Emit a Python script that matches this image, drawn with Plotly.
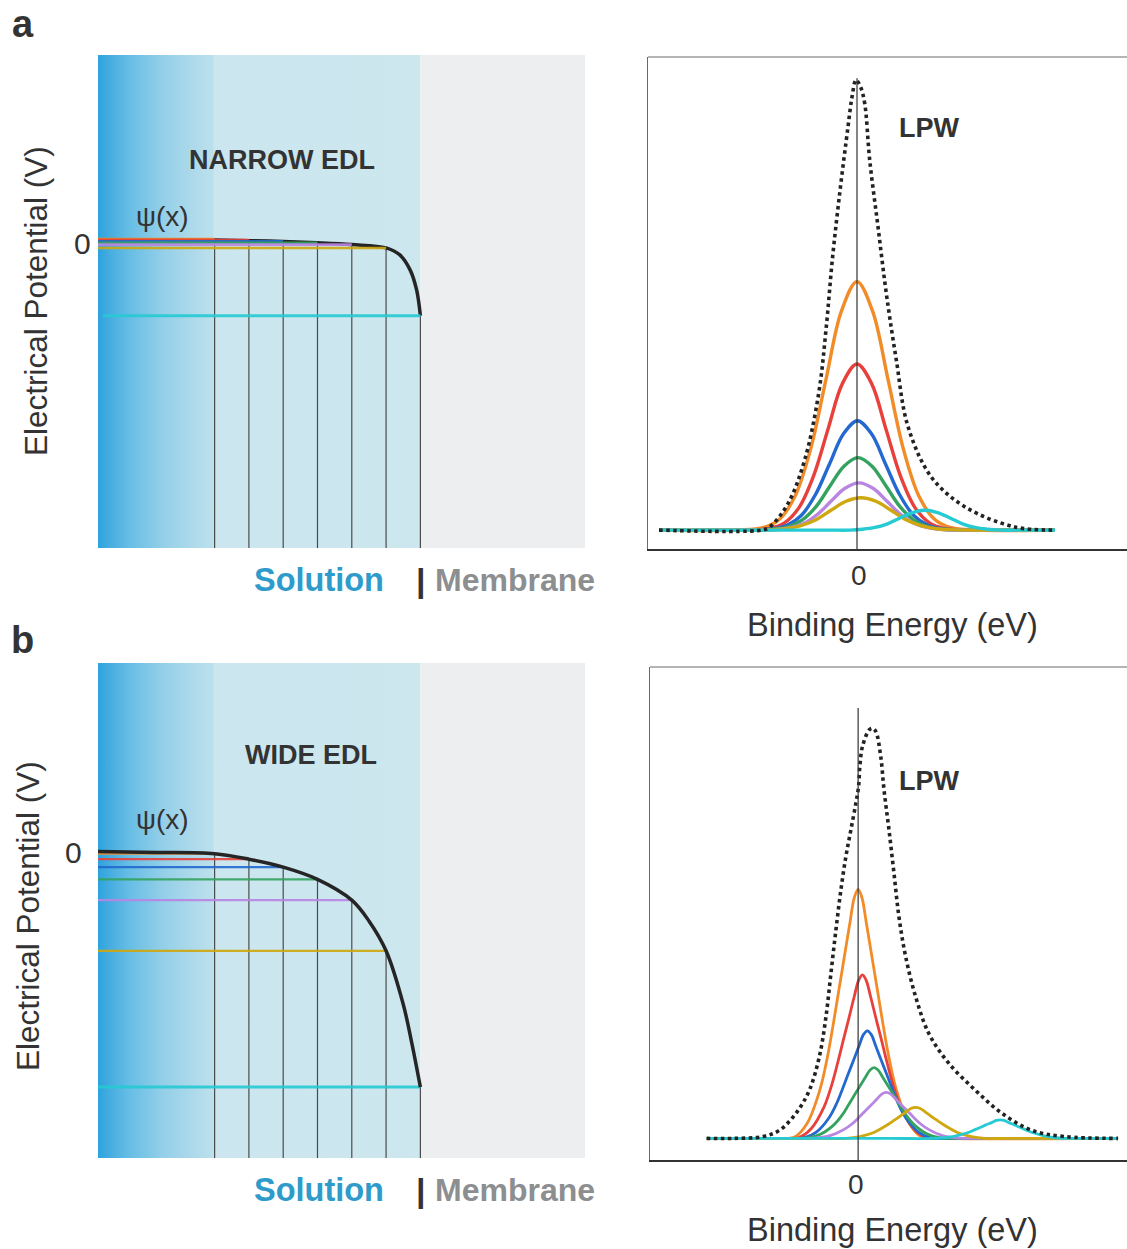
import plotly.graph_objects as go

W, H = 1127, 1249
FONT = "Liberation Sans, Arial, sans-serif"
TXT = "#333333"

# ---------------- left panels: potential vs distance ----------------
probe_x = [3.4, 4.4, 5.4, 6.4, 7.4, 8.4, 9.4]
membrane_x = 9.4
x_end = 14.2
probe_colors = ["#F28C28", "#E8413C", "#2369CF", "#34A35F", "#B985E3", "#CFA70E", "#26CAD3"]

narrow_levels = [0.015, 0.012, 0.0075, 0.003, -0.003, -0.014, -0.237]
narrow_psi_x = [0, 1.7, 3.4, 4.4, 5.4, 6.4, 7.4, 8.4, 8.8, 9.1, 9.29, 9.4]
narrow_psi_y = [0.013, 0.013, 0.012, 0.010, 0.007, 0.003, -0.003, -0.014, -0.037, -0.086, -0.152, -0.237]

wide_levels = [-0.004, -0.022, -0.048, -0.088, -0.156, -0.322, -0.768]
wide_psi_x = [0, 1.7, 3.4, 4.4, 5.4, 6.4, 7.4, 7.9, 8.4, 8.9, 9.15, 9.4]
wide_psi_y = [0.003, 0.0, -0.004, -0.022, -0.048, -0.088, -0.156, -0.224, -0.322, -0.497, -0.624, -0.768]

# ---------------- right panel a: spectra (narrow EDL) ----------------
a_env_x = [-1.98, -0.957, -0.873, -0.69, -0.523, -0.383, -0.307, -0.247, -0.173, -0.09, -0.05, -0.01,
           0.035, 0.077, 0.127, 0.21, 0.293, 0.393, 0.51, 0.743, 1.077, 1.577, 1.977]
a_env_y = [0, 0, 0.007, 0.059, 0.156, 0.304, 0.452, 0.6, 0.748, 0.896, 0.962, 1.0,
           0.985, 0.948, 0.822, 0.674, 0.526, 0.378, 0.23, 0.118, 0.052, 0.007, 0]

a_orange_x = [-1.98, -1.2, -0.93, -0.775, -0.62, -0.465, -0.31, -0.155, 0, 0.155, 0.31, 0.465, 0.62, 0.775, 0.93, 1.2, 1.98]
a_orange_y = [0, 0, 0.006, 0.024, 0.075, 0.179, 0.335, 0.487, 0.552, 0.487, 0.335, 0.179, 0.075, 0.024, 0.006, 0, 0]
a_red_x = [-1.98, -1.15, -0.87, -0.725, -0.58, -0.435, -0.29, -0.145, 0, 0.145, 0.29, 0.435, 0.58, 0.725, 0.87, 1.15, 1.98]
a_red_y = [0, 0, 0.004, 0.016, 0.050, 0.120, 0.224, 0.326, 0.369, 0.326, 0.224, 0.120, 0.050, 0.016, 0.004, 0, 0]
a_blue_x = [-1.98, -1.1, -0.835, -0.695, -0.555, -0.415, -0.275, -0.135, 0.005, 0.145, 0.285, 0.425, 0.565, 0.705, 0.845, 1.1, 1.98]
a_blue_y = [0, 0, 0.003, 0.011, 0.033, 0.079, 0.147, 0.214, 0.243, 0.214, 0.147, 0.079, 0.033, 0.011, 0.003, 0, 0]
a_green_x = [-1.98, -1.1, -0.83, -0.69, -0.55, -0.41, -0.27, -0.13, 0.01, 0.15, 0.29, 0.43, 0.57, 0.71, 0.85, 1.1, 1.98]
a_green_y = [0, 0, 0.002, 0.007, 0.022, 0.052, 0.098, 0.142, 0.161, 0.142, 0.098, 0.052, 0.022, 0.007, 0.002, 0, 0]
a_violet_x = [-1.98, -1.1, -0.82, -0.68, -0.54, -0.40, -0.26, -0.12, 0.02, 0.16, 0.30, 0.44, 0.58, 0.72, 0.86, 1.1, 1.98]
a_violet_y = [0, 0, 0.001, 0.005, 0.014, 0.034, 0.064, 0.093, 0.105, 0.093, 0.064, 0.034, 0.014, 0.005, 0.001, 0, 0]
a_yellow_x = [-1.98, -1.1, -0.86, -0.71, -0.56, -0.41, -0.26, -0.11, 0.04, 0.19, 0.34, 0.49, 0.64, 0.79, 0.94, 1.2, 1.98]
a_yellow_y = [0, 0, 0.001, 0.003, 0.010, 0.023, 0.044, 0.064, 0.072, 0.064, 0.044, 0.023, 0.010, 0.003, 0.001, 0, 0]
a_cyan_x = [-1.98, -0.3, -0.07, 0.055, 0.18, 0.305, 0.43, 0.555, 0.68, 0.805, 0.93, 1.055, 1.18, 1.305, 1.43, 1.7, 1.98]
a_cyan_y = [0, 0, 0, 0.002, 0.006, 0.014, 0.027, 0.039, 0.044, 0.039, 0.027, 0.014, 0.006, 0.002, 0, 0, 0]

# ---------------- right panel b: spectra (wide EDL) ----------------
b_env_x = [-1.52, -1.257, -0.957, -0.79, -0.623, -0.49, -0.39, -0.323, -0.273, -0.223, -0.173, -0.123,
           -0.073, -0.023, 0.004, 0.017, 0.043, 0.11, 0.143, 0.177, 0.227, 0.26, 0.31, 0.36, 0.41,
           0.477, 0.577, 0.71, 0.91, 1.177, 1.443, 1.743, 2.077, 2.61]
b_env_y = [0, 0, 0.004, 0.018, 0.056, 0.107, 0.181, 0.270, 0.367, 0.463, 0.552, 0.626,
           0.685, 0.744, 0.781, 0.826, 0.870, 0.907, 0.911, 0.904, 0.848, 0.774, 0.685, 0.589, 0.492,
           0.404, 0.315, 0.233, 0.167, 0.107, 0.056, 0.018, 0.004, 0]

b_orange_x = [-1.52, -0.85, -0.638, -0.513, -0.385, -0.308, -0.248, -0.193, -0.138, -0.083, -0.038, 0,
              0.038, 0.083, 0.138, 0.193, 0.248, 0.308, 0.385, 0.513, 0.638, 0.85, 2.61]
b_orange_y = [0, 0, 0.003, 0.033, 0.107, 0.181, 0.256, 0.330, 0.404, 0.478, 0.535, 0.553,
              0.535, 0.478, 0.404, 0.330, 0.256, 0.181, 0.107, 0.033, 0.003, 0, 0]
b_red_x = [-1.52, -0.85, -0.595, -0.470, -0.342, -0.265, -0.205, -0.150, -0.095, -0.040, 0.005, 0.043,
           0.081, 0.126, 0.181, 0.236, 0.291, 0.351, 0.428, 0.556, 0.681, 0.9, 2.61]
b_red_y = [0, 0, 0.002, 0.022, 0.070, 0.119, 0.168, 0.217, 0.265, 0.314, 0.351, 0.363,
           0.351, 0.314, 0.265, 0.217, 0.168, 0.119, 0.070, 0.022, 0.002, 0, 0]
b_blue_x = [-1.52, -0.8, -0.545, -0.420, -0.292, -0.215, -0.155, -0.100, -0.045, 0.010, 0.055, 0.093,
            0.131, 0.176, 0.231, 0.286, 0.341, 0.401, 0.478, 0.606, 0.731, 0.95, 2.61]
b_blue_y = [0, 0, 0.001, 0.014, 0.046, 0.078, 0.111, 0.143, 0.174, 0.206, 0.231, 0.239,
            0.231, 0.206, 0.174, 0.143, 0.111, 0.078, 0.046, 0.014, 0.001, 0, 0]
b_green_x = [-1.52, -0.75, -0.510, -0.379, -0.244, -0.163, -0.100, -0.043, 0.015, 0.073, 0.120, 0.16,
             0.200, 0.247, 0.305, 0.363, 0.420, 0.483, 0.564, 0.699, 0.830, 1.05, 2.61]
b_green_y = [0, 0, 0.001, 0.009, 0.030, 0.051, 0.073, 0.094, 0.115, 0.136, 0.152, 0.157,
             0.152, 0.136, 0.115, 0.094, 0.073, 0.051, 0.030, 0.009, 0.001, 0, 0]
b_violet_x = [-1.52, -0.65, -0.419, -0.281, -0.141, -0.056, 0.010, 0.071, 0.131, 0.192, 0.241, 0.283,
              0.325, 0.374, 0.435, 0.495, 0.556, 0.622, 0.707, 0.847, 0.985, 1.2, 2.61]
b_violet_y = [0, 0, 0.001, 0.006, 0.020, 0.033, 0.047, 0.061, 0.074, 0.088, 0.099, 0.102,
              0.099, 0.088, 0.074, 0.061, 0.047, 0.033, 0.020, 0.006, 0.001, 0, 0]
b_yellow_x = [-1.52, -0.4, -0.119, 0.018, 0.157, 0.241, 0.307, 0.367, 0.427, 0.487, 0.535, 0.577,
              0.619, 0.667, 0.727, 0.787, 0.847, 0.913, 0.997, 1.136, 1.273, 1.5, 2.61]
b_yellow_y = [0, 0, 0, 0.004, 0.013, 0.023, 0.032, 0.041, 0.050, 0.060, 0.067, 0.069,
              0.067, 0.060, 0.050, 0.041, 0.032, 0.023, 0.013, 0.004, 0, 0, 0]
b_cyan_x = [-1.52, 0.3, 0.76, 0.891, 1.024, 1.105, 1.168, 1.226, 1.283, 1.341, 1.387, 1.427,
            1.467, 1.513, 1.571, 1.628, 1.686, 1.749, 1.83, 1.963, 2.094, 2.3, 2.61]
b_cyan_y = [0, 0, 0, 0.002, 0.008, 0.013, 0.019, 0.024, 0.030, 0.035, 0.040, 0.041,
            0.040, 0.035, 0.030, 0.024, 0.019, 0.013, 0.008, 0.002, 0, 0, 0]

a_peaks = [(a_orange_x, a_orange_y), (a_red_x, a_red_y), (a_blue_x, a_blue_y), (a_green_x, a_green_y),
           (a_violet_x, a_violet_y), (a_yellow_x, a_yellow_y), (a_cyan_x, a_cyan_y)]
b_peaks = [(b_orange_x, b_orange_y), (b_red_x, b_red_y), (b_blue_x, b_blue_y), (b_green_x, b_green_y),
           (b_violet_x, b_violet_y), (b_yellow_x, b_yellow_y), (b_cyan_x, b_cyan_y)]

Y_LEFT = [-1.0, 0.62]

fig = go.Figure()

gradient_scale = [[0.0, "#2CA3DE"], [0.035, "#45ACE0"], [0.1, "#68BEE5"], [0.2, "#93CFE8"],
                  [0.3, "#AFDAEB"], [0.355, "#BBE0EC"], [0.362, "#CBE6EE"], [1.0, "#CDE7EF"]]


def add_psi(xa, ya, psi_x, psi_y):
    fig.add_trace(go.Scatter(x=psi_x, y=psi_y, mode="lines",
                             line=dict(color="#252525", width=3.5, shape="spline"),
                             xaxis=xa, yaxis=ya, hoverinfo="skip", showlegend=False))


def left_panel(xa, ya, levels, psi_x, psi_y, cyan_start, curve_on_top, lw):
    fig.add_trace(go.Scatter(x=[0, membrane_x, membrane_x, 0, 0],
                             y=[Y_LEFT[0], Y_LEFT[0], Y_LEFT[1], Y_LEFT[1], Y_LEFT[0]],
                             mode="lines", fill="toself", line=dict(width=0, color="rgba(0,0,0,0)"),
                             fillgradient=dict(type="horizontal", colorscale=gradient_scale),
                             xaxis=xa, yaxis=ya, hoverinfo="skip", showlegend=False))
    fig.add_trace(go.Scatter(x=[membrane_x, x_end, x_end, membrane_x, membrane_x],
                             y=[Y_LEFT[0], Y_LEFT[0], Y_LEFT[1], Y_LEFT[1], Y_LEFT[0]],
                             mode="lines", fill="toself", fillcolor="#EDEEF0",
                             line=dict(width=0, color="rgba(0,0,0,0)"),
                             xaxis=xa, yaxis=ya, hoverinfo="skip", showlegend=False))
    vx, vy = [], []
    for px_, lv in zip(probe_x, levels):
        vx += [px_, px_, None]
        vy += [lv, Y_LEFT[0], None]
    fig.add_trace(go.Scatter(x=vx, y=vy, mode="lines", line=dict(color="#4A4A4A", width=1.2),
                             xaxis=xa, yaxis=ya, hoverinfo="skip", showlegend=False))
    if not curve_on_top:
        add_psi(xa, ya, psi_x, psi_y)
    for i, (px_, lv, c) in enumerate(zip(probe_x, levels, probe_colors)):
        last = i == len(probe_x) - 1
        fig.add_trace(go.Scatter(x=[cyan_start if last else 0, px_], y=[lv, lv], mode="lines",
                                 line=dict(color=c, width=3 if last else lw),
                                 opacity=0.9, xaxis=xa, yaxis=ya, hoverinfo="skip", showlegend=False))
    if curve_on_top:
        add_psi(xa, ya, psi_x, psi_y)


def right_panel(xa, ya, peaks, env_x, env_y, width):
    for (px_, py_), c in zip(peaks, probe_colors):
        fig.add_trace(go.Scatter(x=px_, y=py_, mode="lines", line=dict(color=c, width=width, shape="spline"),
                                 xaxis=xa, yaxis=ya, hoverinfo="skip", showlegend=False))
    fig.add_trace(go.Scatter(x=env_x, y=env_y, mode="lines",
                             line=dict(color="#222222", width=3.6, dash="3.5px,3.5px", shape="spline"),
                             xaxis=xa, yaxis=ya, hoverinfo="skip", showlegend=False))


left_panel("x", "y", narrow_levels, narrow_psi_x, narrow_psi_y, 0.15, False, 2.6)
right_panel("x2", "y2", a_peaks, a_env_x, a_env_y, 3.4)
left_panel("x3", "y3", wide_levels, wide_psi_x, wide_psi_y, 0.0, True, 2.2)
right_panel("x4", "y4", b_peaks, b_env_x, b_env_y, 2.8)


def dom_x(a, b):
    return [a / W, b / W]


def dom_y(top, bottom):
    return [1 - bottom / H, 1 - top / H]


hidden = dict(visible=False, showgrid=False, zeroline=False, fixedrange=True)
right_x = dict(showline=True, linewidth=2, linecolor="#333333", ticks="", showticklabels=False,
               showgrid=False, zeroline=False, range=[-2.09, 2.70])
right_y = dict(showline=True, linewidth=1, linecolor="#6A6A6A", ticks="", showticklabels=False,
               showgrid=False, zeroline=False)

fig.update_layout(
    width=W, height=H, margin=dict(l=0, r=0, t=0, b=0),
    paper_bgcolor="white", plot_bgcolor="rgba(0,0,0,0)", showlegend=False,
    xaxis=dict(hidden, domain=dom_x(98, 585), range=[0, x_end], anchor="y"),
    yaxis=dict(hidden, domain=dom_y(55, 548), range=Y_LEFT, anchor="x"),
    xaxis2=dict(right_x, domain=dom_x(648, 1127), anchor="y2"),
    yaxis2=dict(right_y, domain=dom_y(57, 549), range=[-0.042, 1.051], anchor="x2"),
    xaxis3=dict(hidden, domain=dom_x(98, 585), range=[0, x_end], anchor="y3"),
    yaxis3=dict(hidden, domain=dom_y(663, 1158), range=Y_LEFT, anchor="x3"),
    xaxis4=dict(right_x, domain=dom_x(650, 1127), anchor="y4"),
    yaxis4=dict(right_y, domain=dom_y(667, 1160), range=[-0.048, 1.047], anchor="x4"),
)

fig.add_shape(type="line", xref="x2", yref="y2", x0=0, x1=0, y0=-0.042, y1=1.004,
              line=dict(color="#333333", width=1.2))
fig.add_shape(type="line", xref="x4", yref="y4", x0=0, x1=0, y0=-0.048, y1=0.956,
              line=dict(color="#333333", width=1.2))
for xr, yr in (("x2", "y2"), ("x4", "y4")):
    fig.add_shape(type="line", xref=xr + " domain", yref=yr + " domain", x0=0, x1=1, y0=1, y1=1,
                  line=dict(color="#6A6A6A", width=1))


def ann(text, x, y, size, color=TXT, bold=False, angle=0):
    fig.add_annotation(text=("<b>%s</b>" % text) if bold else text, x=x / W, y=1 - y / H,
                       xref="paper", yref="paper", xanchor="center", yanchor="middle",
                       showarrow=False, textangle=angle,
                       font=dict(family=FONT, size=size, color=color))


ann("a", 23, 24, 38, bold=True)
ann("b", 23, 640, 38, bold=True)
ann("NARROW EDL", 282, 160, 27, bold=True)
ann("WIDE EDL", 311, 755, 27, bold=True)
ann("ψ(x)", 162, 217, 28)
ann("ψ(x)", 162, 819, 28)
ann("0", 82, 244, 30)
ann("0", 73, 852, 30)
ann("Electrical Potential (V)", 36, 301, 31.5, angle=-90)
ann("Electrical Potential (V)", 28, 916, 31.5, angle=-90)
for yy in (580, 1190):
    ann("Solution", 319, yy, 32.5, color="#2E9BCB", bold=True)
    ann("|", 421, yy, 34, color="#333333", bold=True)
    ann("Membrane", 515, yy, 32, color="#8C8E90", bold=True)
ann("LPW", 929, 128, 27, bold=True)
ann("LPW", 929, 781, 27, bold=True)
ann("0", 859, 575, 28)
ann("0", 856, 1184, 28)
ann("Binding Energy (eV)", 892, 625, 32.5)
ann("Binding Energy (eV)", 892, 1230, 32.5)

fig.write_html("out.html")
